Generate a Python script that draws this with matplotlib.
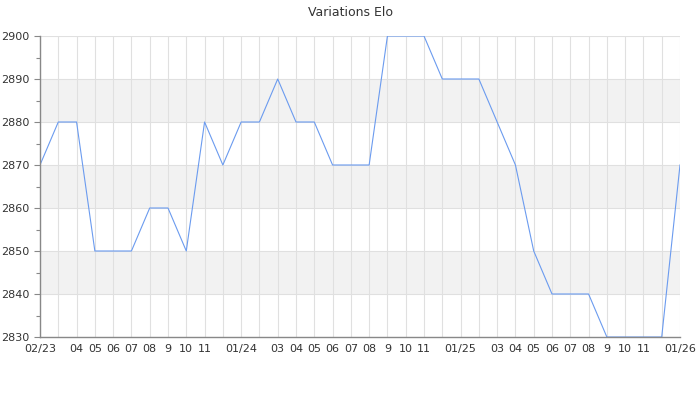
import matplotlib
matplotlib.use("Agg")
from matplotlib import pyplot as plt
from matplotlib.ticker import MultipleLocator

# monthly elo, 02/23 .. 01/26
months = list(range(36))
elo = [2870, 2880, 2880, 2850, 2850, 2850, 2860, 2860, 2850, 2880, 2870,
       2880, 2880, 2890, 2880, 2880, 2870, 2870, 2870, 2900, 2900, 2900, 2890,
       2890, 2890, 2880, 2870, 2850, 2840, 2840, 2840, 2830, 2830, 2830, 2830,
       2870]
labels = ["02/23", "", "04", "05", "06", "07", "08", "9", "10", "11", "",
          "01/24", "", "03", "04", "05", "06", "07", "08", "9", "10", "11", "",
          "01/25", "", "03", "04", "05", "06", "07", "08", "9", "10", "11", "",
          "01/26"]

fig = plt.figure(figsize=(7, 4), dpi=100)
ax = fig.add_axes([40 / 700, 1 - 337 / 400, 640 / 700, 301 / 400])

# alternating bands
for lo in (2840, 2860, 2880):
    ax.axhspan(lo, lo + 10, color="#f2f2f2", zorder=0, lw=0)

# line sits under the spines so the flat part at 2830 is hidden
ax.plot(months, elo, color="#6b9bef", lw=0.8, zorder=2)

ax.set_xlim(0, 35)
ax.set_ylim(2830, 2900)
ax.set_xticks(months)
ax.set_xticklabels(labels, fontsize=8, color="#333333")
ax.yaxis.set_major_locator(MultipleLocator(10))
ax.yaxis.set_minor_locator(MultipleLocator(5))
ax.tick_params(axis="y", labelsize=8, labelcolor="#333333", color="#888888",
               length=4, width=0.8)
ax.tick_params(axis="y", which="minor", color="#888888", length=3, width=0.8)
ax.tick_params(axis="x", length=0, pad=5)

ax.grid(True, color="#e0e0e0", lw=0.8, zorder=1)
ax.set_axisbelow(True)
for s in ("top", "right"):
    ax.spines[s].set_visible(False)
for s in ("left", "bottom"):
    ax.spines[s].set_color("#888888")
    ax.spines[s].set_linewidth(1.0)
    ax.spines[s].set_zorder(5)

fig.suptitle("Variations Elo", fontsize=9, color="#333333", y=0.985)

fig.savefig("out.png", dpi=100)
